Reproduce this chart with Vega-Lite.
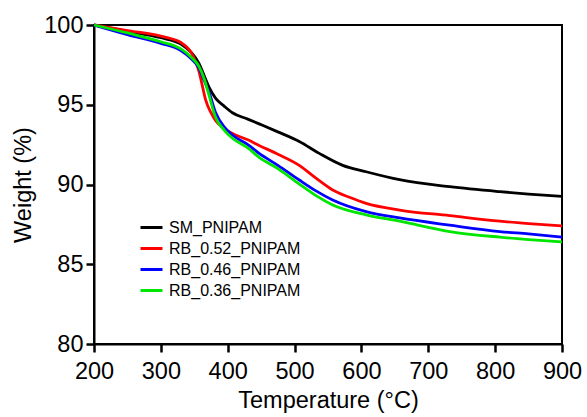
{
  "$schema": "https://vega.github.io/schema/vega-lite/v6.json",
  "width": 468,
  "height": 319,
  "autosize": {"type": "none"},
  "padding": {"left": 94, "top": 25, "right": 25, "bottom": 73},
  "config": {
    "font": "Liberation Sans",
    "view": {"stroke": "black", "strokeWidth": 2},
    "axis": {
      "domainColor": "#000000", "domainWidth": 2, "ticks": true,
      "tickColor": "#000000", "tickWidth": 2.5, "tickSize": 8, "labelFlush": false,
      "labelColor": "black", "labelFontSize": 23.5,
      "titleColor": "black", "titleFontSize": 23.5, "titleFontWeight": "normal",
      "grid": false
    }
  },
  "data": {"values": [
    {"s":"SM_PNIPAM","T":200,"W":100},{"s":"SM_PNIPAM","T":250,"W":99.6},{"s":"SM_PNIPAM","T":300,"W":99.2},{"s":"SM_PNIPAM","T":330,"W":98.8},{"s":"SM_PNIPAM","T":345,"W":98.3},{"s":"SM_PNIPAM","T":357,"W":97.6},{"s":"SM_PNIPAM","T":365,"W":96.8},{"s":"SM_PNIPAM","T":372,"W":96.1},{"s":"SM_PNIPAM","T":382,"W":95.4},{"s":"SM_PNIPAM","T":395,"W":94.9},{"s":"SM_PNIPAM","T":407,"W":94.5},{"s":"SM_PNIPAM","T":430,"W":94.1},{"s":"SM_PNIPAM","T":447,"W":93.8},{"s":"SM_PNIPAM","T":475,"W":93.3},{"s":"SM_PNIPAM","T":507,"W":92.7},{"s":"SM_PNIPAM","T":537,"W":91.95},{"s":"SM_PNIPAM","T":572,"W":91.2},{"s":"SM_PNIPAM","T":607,"W":90.8},{"s":"SM_PNIPAM","T":657,"W":90.3},{"s":"SM_PNIPAM","T":732,"W":89.86},{"s":"SM_PNIPAM","T":807,"W":89.55},{"s":"SM_PNIPAM","T":850,"W":89.4},{"s":"SM_PNIPAM","T":900,"W":89.25},
    {"s":"RB_0.52_PNIPAM","T":200,"W":100},{"s":"RB_0.52_PNIPAM","T":250,"W":99.65},{"s":"RB_0.52_PNIPAM","T":300,"W":99.3},{"s":"RB_0.52_PNIPAM","T":330,"W":98.9},{"s":"RB_0.52_PNIPAM","T":345,"W":98.3},{"s":"RB_0.52_PNIPAM","T":352,"W":97.7},{"s":"RB_0.52_PNIPAM","T":357,"W":97.1},{"s":"RB_0.52_PNIPAM","T":362,"W":96.2},{"s":"RB_0.52_PNIPAM","T":367,"W":95.3},{"s":"RB_0.52_PNIPAM","T":375,"W":94.5},{"s":"RB_0.52_PNIPAM","T":382,"W":94.0},{"s":"RB_0.52_PNIPAM","T":395,"W":93.5},{"s":"RB_0.52_PNIPAM","T":407,"W":93.2},{"s":"RB_0.52_PNIPAM","T":430,"W":92.8},{"s":"RB_0.52_PNIPAM","T":447,"W":92.45},{"s":"RB_0.52_PNIPAM","T":475,"W":91.9},{"s":"RB_0.52_PNIPAM","T":507,"W":91.2},{"s":"RB_0.52_PNIPAM","T":532,"W":90.4},{"s":"RB_0.52_PNIPAM","T":557,"W":89.66},{"s":"RB_0.52_PNIPAM","T":582,"W":89.2},{"s":"RB_0.52_PNIPAM","T":607,"W":88.82},{"s":"RB_0.52_PNIPAM","T":657,"W":88.4},{"s":"RB_0.52_PNIPAM","T":732,"W":88.05},{"s":"RB_0.52_PNIPAM","T":807,"W":87.7},{"s":"RB_0.52_PNIPAM","T":850,"W":87.55},{"s":"RB_0.52_PNIPAM","T":900,"W":87.4},
    {"s":"RB_0.46_PNIPAM","T":200,"W":100},{"s":"RB_0.46_PNIPAM","T":250,"W":99.4},{"s":"RB_0.46_PNIPAM","T":300,"W":98.85},{"s":"RB_0.46_PNIPAM","T":330,"W":98.4},{"s":"RB_0.46_PNIPAM","T":345,"W":97.9},{"s":"RB_0.46_PNIPAM","T":357,"W":97.3},{"s":"RB_0.46_PNIPAM","T":365,"W":96.5},{"s":"RB_0.46_PNIPAM","T":372,"W":95.8},{"s":"RB_0.46_PNIPAM","T":382,"W":94.5},{"s":"RB_0.46_PNIPAM","T":395,"W":93.6},{"s":"RB_0.46_PNIPAM","T":407,"W":93.1},{"s":"RB_0.46_PNIPAM","T":430,"W":92.5},{"s":"RB_0.46_PNIPAM","T":447,"W":91.95},{"s":"RB_0.46_PNIPAM","T":475,"W":91.2},{"s":"RB_0.46_PNIPAM","T":507,"W":90.28},{"s":"RB_0.46_PNIPAM","T":532,"W":89.6},{"s":"RB_0.46_PNIPAM","T":557,"W":89.03},{"s":"RB_0.46_PNIPAM","T":607,"W":88.3},{"s":"RB_0.46_PNIPAM","T":657,"W":87.9},{"s":"RB_0.46_PNIPAM","T":732,"W":87.45},{"s":"RB_0.46_PNIPAM","T":807,"W":87.05},{"s":"RB_0.46_PNIPAM","T":850,"W":86.9},{"s":"RB_0.46_PNIPAM","T":900,"W":86.7},
    {"s":"RB_0.36_PNIPAM","T":200,"W":100},{"s":"RB_0.36_PNIPAM","T":250,"W":99.5},{"s":"RB_0.36_PNIPAM","T":300,"W":98.95},{"s":"RB_0.36_PNIPAM","T":330,"W":98.5},{"s":"RB_0.36_PNIPAM","T":345,"W":98.0},{"s":"RB_0.36_PNIPAM","T":357,"W":97.4},{"s":"RB_0.36_PNIPAM","T":365,"W":96.6},{"s":"RB_0.36_PNIPAM","T":372,"W":95.6},{"s":"RB_0.36_PNIPAM","T":382,"W":94.2},{"s":"RB_0.36_PNIPAM","T":395,"W":93.4},{"s":"RB_0.36_PNIPAM","T":407,"W":92.9},{"s":"RB_0.36_PNIPAM","T":430,"W":92.3},{"s":"RB_0.36_PNIPAM","T":447,"W":91.7},{"s":"RB_0.36_PNIPAM","T":475,"W":91.0},{"s":"RB_0.36_PNIPAM","T":507,"W":90.03},{"s":"RB_0.36_PNIPAM","T":532,"W":89.3},{"s":"RB_0.36_PNIPAM","T":557,"W":88.72},{"s":"RB_0.36_PNIPAM","T":607,"W":88.1},{"s":"RB_0.36_PNIPAM","T":657,"W":87.7},{"s":"RB_0.36_PNIPAM","T":732,"W":87.05},{"s":"RB_0.36_PNIPAM","T":807,"W":86.7},{"s":"RB_0.36_PNIPAM","T":850,"W":86.55},{"s":"RB_0.36_PNIPAM","T":900,"W":86.4}
  ]},
  "mark": {"type": "line", "strokeWidth": 2.8, "interpolate": "monotone"},
  "encoding": {
    "x": {"field": "T", "type": "quantitative", "title": "Temperature (°C)",
      "scale": {"domain": [200, 900], "nice": false},
      "axis": {"values": [200,300,400,500,600,700,800,900], "labelPadding": 7, "titlePadding": 6}},
    "y": {"field": "W", "type": "quantitative", "title": "Weight (%)",
      "scale": {"domain": [80, 100], "nice": false, "zero": false},
      "axis": {"values": [80,85,90,95,100], "labelPadding": 3, "titlePadding": 8}},
    "color": {"field": "s", "type": "nominal",
      "scale": {"domain": ["SM_PNIPAM","RB_0.52_PNIPAM","RB_0.46_PNIPAM","RB_0.36_PNIPAM"],
                "range": ["#000000","#ff0000","#0000ff","#00e600"]},
      "legend": {"title": null, "orient": "none", "legendX": 45, "legendY": 190,
        "symbolType": "stroke", "symbolSize": 484, "symbolStrokeWidth": 3,
        "labelFontSize": 16, "labelColor": "black", "labelOffset": 5, "rowPadding": -4.5, "padding": 0}}
  }
}
